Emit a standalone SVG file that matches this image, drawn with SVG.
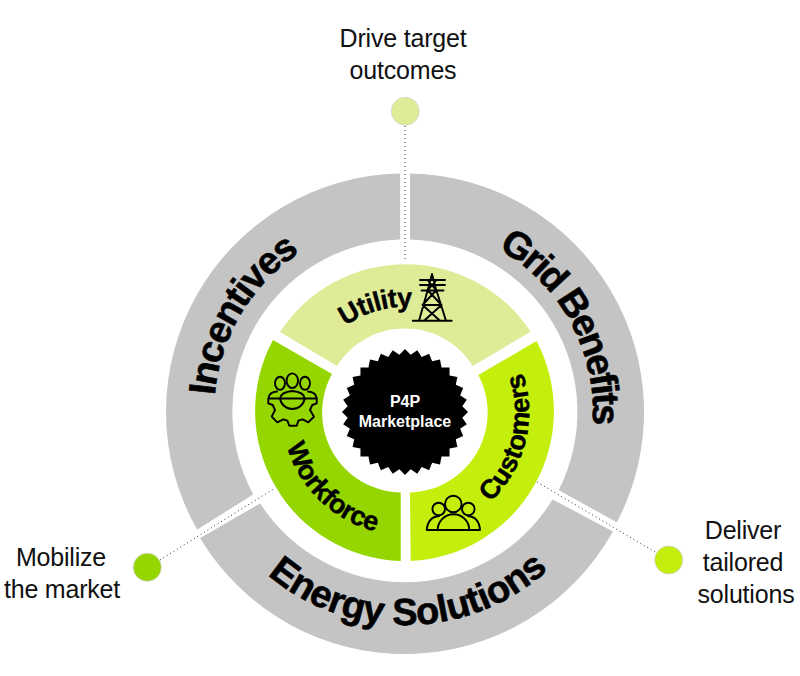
<svg xmlns="http://www.w3.org/2000/svg" width="800" height="676" viewBox="0 0 800 676">
<style>
.ring{fill:#c4c4c4;stroke:#c4c4c4;stroke-width:1;stroke-linejoin:round}
.big{font:bold 38px "Liberation Sans",Arial,sans-serif;fill:#000;stroke:#000;stroke-width:.6;text-anchor:middle}
.mid{font:bold 27px "Liberation Sans",Arial,sans-serif;fill:#000;stroke:#000;stroke-width:.4;text-anchor:middle}
.lab{font:25px "Liberation Sans",Arial,sans-serif;fill:#111;text-anchor:middle;letter-spacing:-.2px}
.core{font:bold 16px "Liberation Sans",Arial,sans-serif;fill:#fff;text-anchor:middle}
.dot{stroke:#333;stroke-width:1;stroke-dasharray:1 3;fill:none}
.ic{fill:none;stroke:#000;stroke-width:1.9;stroke-linecap:round;stroke-linejoin:round}
.pin{stroke:#d0d0d0;stroke-width:.7}
</style>
<defs>
<path id="pInc" d="M216.4 441.9A191 191 0 0 1 342.8 231.4"/>
<path id="pGrid" d="M453.7 230.4A188 188 0 0 1 584.8 467"/>
<path id="pEn" d="M222.4 521.7A213 213 0 0 0 591.3 515.3"/>
<path id="pUt" d="M314 360.5A106 106 0 0 1 456.5 319.5"/>
<path id="pCu" d="M460.9 522.7A124 124 0 0 0 506.6 340.6"/>
<path id="pWo" d="M282.3 403.4A123 123 0 0 0 417.9 534.3"/>
</defs>
<rect width="800" height="676" fill="#fff"/>
<g id="connectors">
<line class="dot" x1="405" y1="126" x2="405" y2="262"/>
<line class="dot" x1="160" y1="560" x2="275" y2="488"/>
<line class="dot" x1="655" y1="552" x2="537" y2="482"/>
</g>
<g id="incentives">
<path class="ring" d="M399.5 174A238 238 0 0 0 197.3 529L252.7 494.3A173 173 0 0 1 399.5 239Z"/>
<text class="big" letter-spacing="-1.5"><textPath href="#pInc" startOffset="49.5%">Incentives</textPath></text>
</g>
<g id="grid-benefits">
<path class="ring" d="M410.5 174A238 238 0 0 1 616.7 521.7L559.3 490A173 173 0 0 0 410.5 239Z"/>
<text class="big" letter-spacing="-2.3"><textPath href="#pGrid" startOffset="50.5%">Grid Benefits</textPath></text>
</g>
<g id="energy-solutions">
<path class="ring" d="M200.7 538.3A238 238 0 0 0 612.3 531.7L552.7 500A173 173 0 0 1 260 504Z"/>
<text class="big" letter-spacing="-.4"><textPath href="#pEn" startOffset="50%">Energy Solutions</textPath></text>
</g>
<g id="utility">
<path fill="#dfeb97" d="M280 332A150 150 0 0 1 530.7 331.7L472.7 366A80 80 0 0 0 337 366Z"/>
<text class="mid" letter-spacing="-.7"><textPath href="#pUt" startOffset="50%">Utility</textPath></text>
<path class="ic" d="M412.7 320.7H451.7M419 320.7L428 289L432 274L436 289L446 320.7M420 280H445M420 285H445M421.5 290.5H443.5M427.5 280L436.5 290.5M436.5 280L427.5 290.5M428 290.5L441.5 305M436 290.5L422.5 305M422.5 305H441.5M422.5 305L440 320.7M441.5 305L424 320.7"/>
</g>
<g id="workforce">
<path fill="#96d600" d="M273 340L332 374A80 80 0 0 0 400.7 492.5V561A150 150 0 0 1 273 340Z"/>
<text class="mid" letter-spacing="-.5"><textPath href="#pWo" startOffset="50%">Workforce</textPath></text>
<g class="ic">
<ellipse cx="280" cy="383.3" rx="5" ry="6.5"/>
<ellipse cx="292.3" cy="380.7" rx="5.7" ry="7.3"/>
<ellipse cx="305" cy="383.3" rx="5" ry="6.5"/>
<path d="M268.5 398.5H316.7M280 398.5Q281 392 292.3 391Q304 392 304.7 398.5M268.5 398.5Q269 392 277 391.5M316.7 398.5Q316 392 308 391.5M280 398.5A12.5 12.5 0 0 0 304.7 398.5"/>
<path d="M268.3 398.5V403.3L272.7 405L275 410L271.7 416.7L277.3 422.3L283.3 419.3L287.3 420.7L289.3 425.7H296.7L298.3 420.7L302.7 419.3L308.3 422.3L314 416.7L310 410L312.3 405L316.7 403.3V398.5"/>
</g>
</g>
<g id="customers">
<path fill="#c4ee0c" d="M536.5 341A150 150 0 0 1 410.7 561L410 492.5A80 80 0 0 0 478.3 375Z"/>
<text class="mid" letter-spacing="0"><textPath href="#pCu" startOffset="50%">Customers</textPath></text>
<g class="ic">
<circle cx="438.7" cy="509" r="6.3"/>
<circle cx="468.3" cy="509" r="6.3"/>
<circle cx="453.3" cy="504" r="8.3" fill="#c4ee0c"/>
<path d="M426.7 530H480M437.7 530A15.8 15.8 0 0 1 469.3 530M426.7 530Q428 517 439 516M480 530Q479 517 468 516"/>
</g>
</g>
<g id="marketplace">
<polygon transform="translate(405 412)" fill="#000" points="63,0 57.32,5.65 61.79,12.29 55.12,16.72 58.2,24.11 50.8,27.15 52.38,35 44.53,36.54 44.55,44.55 36.54,44.53 35,52.38 27.15,50.8 24.11,58.2 16.72,55.12 12.29,61.79 5.65,57.32 0,63 -5.65,57.32 -12.29,61.79 -16.72,55.12 -24.11,58.2 -27.15,50.8 -35,52.38 -36.54,44.53 -44.55,44.55 -44.53,36.54 -52.38,35 -50.8,27.15 -58.2,24.11 -55.12,16.72 -61.79,12.29 -57.32,5.65 -63,0 -57.32,-5.65 -61.79,-12.29 -55.12,-16.72 -58.2,-24.11 -50.8,-27.15 -52.38,-35 -44.53,-36.54 -44.55,-44.55 -36.54,-44.53 -35,-52.38 -27.15,-50.8 -24.11,-58.2 -16.72,-55.12 -12.29,-61.79 -5.65,-57.32 0,-63 5.65,-57.32 12.29,-61.79 16.72,-55.12 24.11,-58.2 27.15,-50.8 35,-52.38 36.54,-44.53 44.55,-44.55 44.53,-36.54 52.38,-35 50.8,-27.15 58.2,-24.11 55.12,-16.72 61.79,-12.29 57.32,-5.65"/>
<text class="core" x="405" y="406.5">P4P</text>
<text class="core" x="405" y="426.5">Marketplace</text>
</g>
<g id="drive-target">
<circle class="pin" cx="405.3" cy="111.3" r="14" fill="#dfeb97"/>
<text class="lab" x="403" y="46.5">Drive target</text>
<text class="lab" x="403" y="78.5">outcomes</text>
</g>
<g id="mobilize">
<circle class="pin" cx="147.3" cy="567.3" r="14" fill="#96d600"/>
<text class="lab" x="61" y="566">Mobilize</text>
<text class="lab" x="62" y="597.5">the market</text>
</g>
<g id="deliver">
<circle class="pin" cx="668.7" cy="560" r="14" fill="#c4ee0c"/>
<text class="lab" x="743" y="539">Deliver</text>
<text class="lab" x="743" y="571">tailored</text>
<text class="lab" x="746" y="603">solutions</text>
</g>
</svg>
